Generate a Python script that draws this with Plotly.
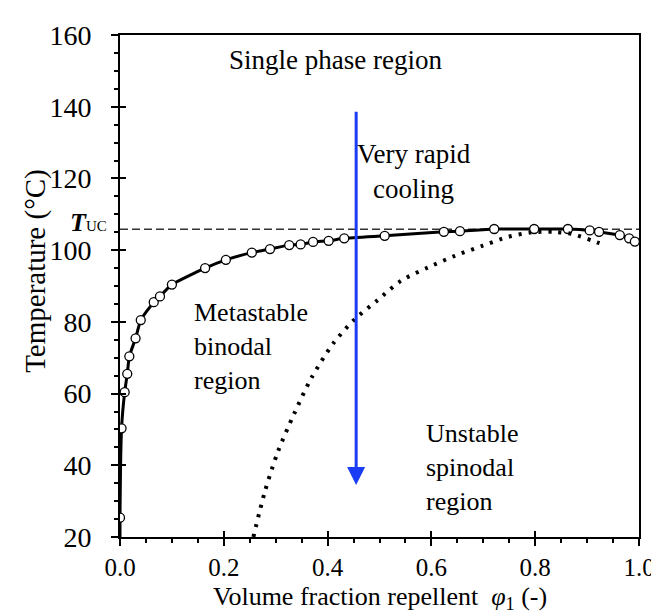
import plotly.graph_objects as go

# Binodal (measured points, open circles)
binodal_x = [0.0, 0.003, 0.009, 0.014, 0.018, 0.030, 0.040, 0.065, 0.077, 0.100,
             0.164, 0.204, 0.254, 0.289, 0.326, 0.348, 0.372, 0.402, 0.432, 0.510,
             0.624, 0.655, 0.721, 0.798, 0.863, 0.905, 0.923, 0.963, 0.981, 0.992]
binodal_y = [25.4, 50.3, 60.4, 65.5, 70.4, 75.4, 80.5, 85.5, 87.1, 90.4,
             95.0, 97.3, 99.3, 100.3, 101.4, 101.6, 102.3, 102.6, 103.3, 104.0,
             105.1, 105.3, 105.9, 105.9, 105.9, 105.5, 105.1, 104.2, 103.3, 102.4]
# binodal fitted line (reaches bottom axis at phi ~ 0)
binodal_line_x = [0.0] + binodal_x
binodal_line_y = [20.0] + binodal_y

# Spinodal (dotted curve)
spinodal_x = [0.257, 0.279, 0.304, 0.335, 0.369, 0.411, 0.452, 0.496, 0.542, 0.594,
              0.645, 0.698, 0.748, 0.790, 0.836, 0.871, 0.911, 0.932]
spinodal_y = [20.0, 32.6, 43.7, 54.2, 64.4, 74.0, 80.7, 86.0, 91.5, 95.2,
              98.4, 101.2, 103.7, 104.9, 105.1, 104.5, 102.6, 101.5]

T_UC = 105.8
arrow_x = 0.455
arrow_top = 139.0
arrow_tip = 34.5

x_ticks = [0.0, 0.2, 0.4, 0.6, 0.8, 1.0]
y_ticks = [20, 40, 60, 80, 100, 120, 140, 160]

FONT = "Liberation Serif"

fig = go.Figure()

# dashed T_UC line
fig.add_trace(go.Scatter(x=[0.0, 1.0], y=[T_UC, T_UC], mode="lines",
                         line=dict(color="#333333", width=1.5, dash="8px,4px"),
                         hoverinfo="skip", showlegend=False))
# spinodal dotted
fig.add_trace(go.Scatter(x=spinodal_x, y=spinodal_y, mode="lines",
                         line=dict(color="black", width=4, dash="3px,7px", shape="spline", smoothing=0.8),
                         showlegend=False, xaxis="x2", yaxis="y2"))
# binodal line
fig.add_trace(go.Scatter(x=binodal_line_x, y=binodal_line_y, mode="lines",
                         line=dict(color="black", width=3, shape="spline", smoothing=0.5),
                         showlegend=False))
# binodal markers
fig.add_trace(go.Scatter(x=binodal_x, y=binodal_y, mode="markers",
                         marker=dict(symbol="circle", size=9, color="white",
                                     line=dict(color="black", width=1.3)),
                         showlegend=False))

axis_common = dict(showgrid=False, zeroline=False, showline=True, linecolor="black",
                   linewidth=2, mirror=True, ticks="outside", ticklen=7, tickwidth=2,
                   tickcolor="black")

fig.update_layout(
    width=659, height=613,
    margin=dict(l=112, r=21, t=22, b=84),
    paper_bgcolor="white", plot_bgcolor="white",
    showlegend=False,
    xaxis=dict(range=[0, 1], tickvals=x_ticks, ticktext=[f"{v:.1f}" for v in x_ticks],
               minor=dict(dtick=0.05, ticks="outside", ticklen=4, tickwidth=1.5, tickcolor="black"),
               tickfont=dict(family=FONT, size=25, color="black"), ticklabeloverflow="allow",
               **axis_common),
    yaxis=dict(range=[20, 160], tickvals=y_ticks,
               minor=dict(dtick=5, ticks="outside", ticklen=4, tickwidth=1.5, tickcolor="black"),
               tickfont=dict(family=FONT, size=28, color="black"), ticklabelstandoff=14,
               **axis_common),
    xaxis2=dict(matches="x", overlaying="x", anchor="y2", side="bottom", showgrid=False,
                zeroline=False, showline=False, showticklabels=False, ticks="inside",
                ticklen=6, tickwidth=2, tickcolor="black", tickvals=x_ticks),
    yaxis2=dict(matches="y", overlaying="y", anchor="x2", side="left", showgrid=False,
                zeroline=False, showline=False, showticklabels=False, ticks="inside",
                ticklen=6, tickwidth=2, tickcolor="black", tickvals=y_ticks),
)

# axis titles as annotations for exact placement
fig.add_annotation(x=-0.162, y=0.53, xref="paper", yref="paper", text="Temperature (°C)",
                   textangle=-90, showarrow=False, xanchor="center", yanchor="middle",
                   font=dict(family=FONT, size=29, color="black"))
fig.add_annotation(x=0.5, y=-0.158, xref="paper", yref="paper",
                   text="Volume fraction repellent  <i>φ</i><sub>1</sub> (-)",
                   showarrow=False, xanchor="center", yanchor="bottom",
                   font=dict(family=FONT, size=26, color="black"))

txt = dict(family=FONT, size=27, color="black")
fig.add_annotation(x=0.206, y=153.0, xref="x", yref="y", text="Single phase region",
                   showarrow=False, xanchor="left", yanchor="middle", font=txt)
fig.add_annotation(x=0.566, y=122.0, xref="x", yref="y", text="Very rapid<br>cooling",
                   showarrow=False, xanchor="center", yanchor="middle", align="center", font=txt)
fig.add_annotation(x=0.139, y=73.0, xref="x", yref="y", text="Metastable<br>binodal<br>region",
                   showarrow=False, xanchor="left", yanchor="middle", align="left",
                   font=dict(family=FONT, size=26, color="black"))
fig.add_annotation(x=0.585, y=39.5, xref="x", yref="y", text="Unstable<br>spinodal<br>region",
                   showarrow=False, xanchor="left", yanchor="middle", align="left",
                   font=dict(family=FONT, size=26, color="black"))
fig.add_annotation(x=-0.022, y=107.8, xref="paper", yref="y",
                   text="<b><i>T</i></b><span style='font-size:15px'>UC</span>",
                   showarrow=False, xanchor="right", yanchor="middle",
                   font=dict(family=FONT, size=26, color="black"))
# cooling arrow
fig.add_annotation(x=arrow_x, y=arrow_tip, ax=arrow_x, ay=arrow_top,
                   xref="x", yref="y", axref="x", ayref="y", text="",
                   showarrow=True, arrowhead=2, arrowsize=1.2, arrowwidth=3,
                   arrowcolor="#1a3cf5")

fig.write_html("out.html")
